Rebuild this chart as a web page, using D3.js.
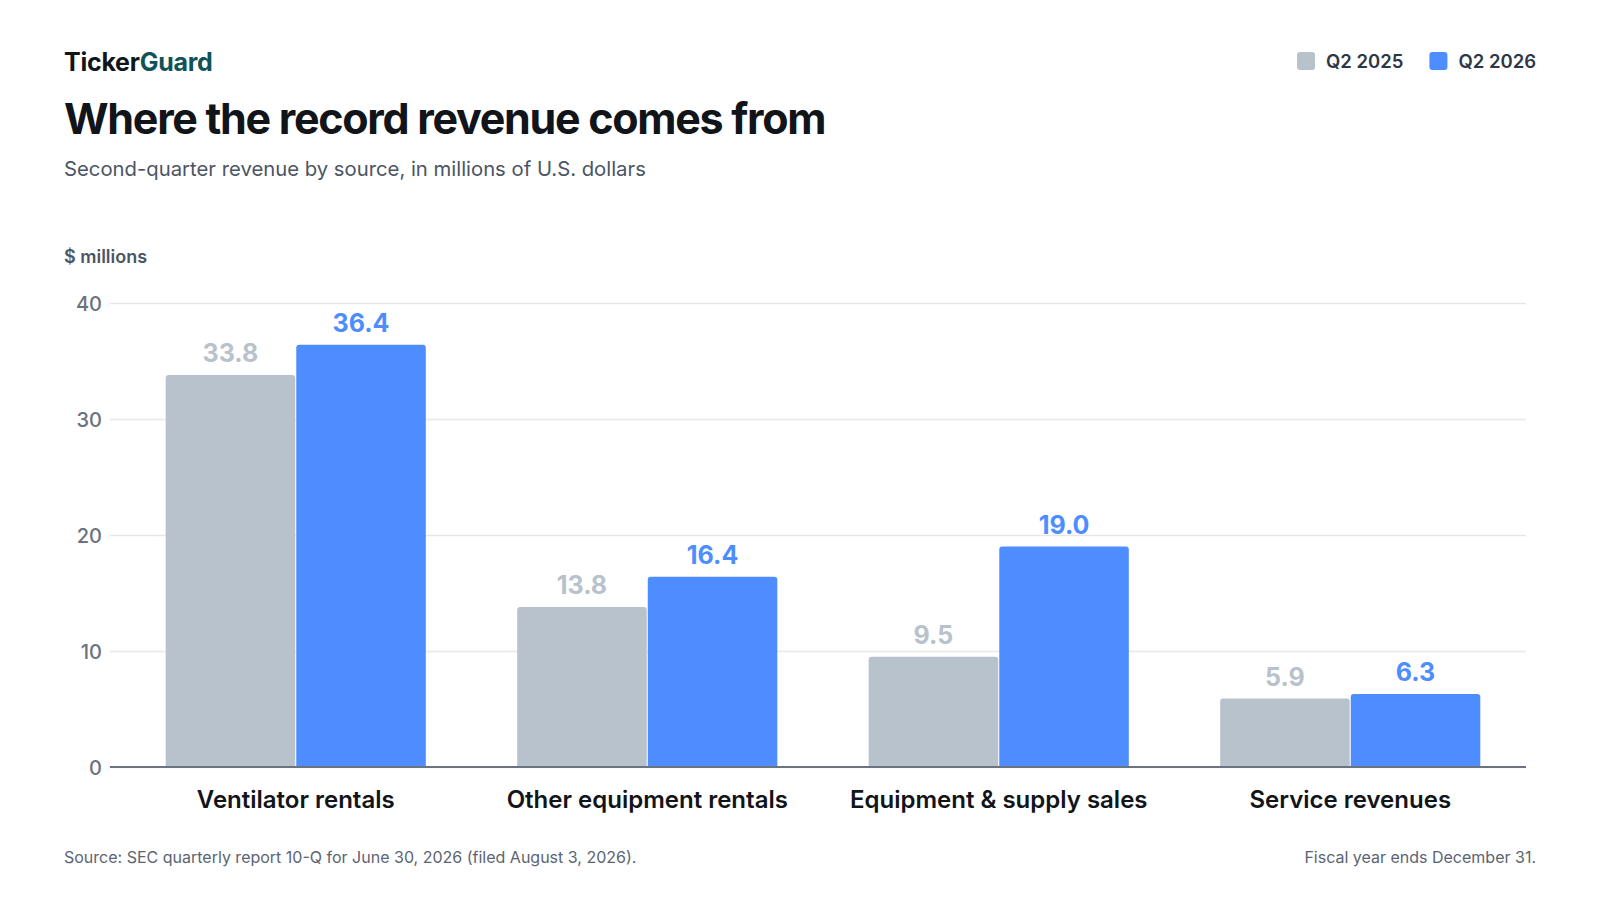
<!DOCTYPE html>
<html>
<head>
<meta charset="utf-8">
<script src="https://cdn.jsdelivr.net/npm/d3@7"></script>
<style>
  body { margin: 0; background: #fff; font-family: Inter, 'Noto Sans', sans-serif; }
  svg text { font-family: Inter, 'Noto Sans', sans-serif; }
</style>
</head>
<body>
<div id="chart"></div>
<script>
let width = 1600;
let height = 900;

let categories = ['Ventilator rentals', 'Other equipment rentals', 'Equipment & supply sales', 'Service revenues'];
let seriesNames = ['Q2 2025', 'Q2 2026'];
let q2_2025 = [33.8, 13.8, 9.5, 5.9];
let q2_2026 = [36.4, 16.4, 19.0, 6.3];
let yTicks = [0, 10, 20, 30, 40];

let colors = { 'Q2 2025': '#b8c2cc', 'Q2 2026': '#4d8dff' };

let rows = categories.map(function(c, i) {
  return { category: c, values: [
    { key: 'Q2 2025', value: q2_2025[i] },
    { key: 'Q2 2026', value: q2_2026[i] }
  ] };
});

let svg = d3.select('#chart')
  .append('svg')
  .attr('width', width)
  .attr('height', height);

// header
let brand = svg.append('text')
  .attr('x', 64)
  .attr('y', 71)
  .style('font-size', '25px')
  .style('font-weight', 700)
  .style('letter-spacing', '-0.01em');
brand.append('tspan').attr('fill', '#111418').text('Ticker');
brand.append('tspan').attr('fill', '#0f5257').text('Guard');

svg.append('text')
  .attr('x', 64)
  .attr('y', 134)
  .attr('fill', '#111418')
  .style('font-size', '43px')
  .style('font-weight', 700)
  .style('letter-spacing', '-0.03em')
  .text('Where the record revenue comes from');

svg.append('text')
  .attr('x', 64)
  .attr('y', 176)
  .attr('fill', '#4b5563')
  .style('font-size', '20.3px')
  .text('Second-quarter revenue by source, in millions of U.S. dollars');

svg.append('text')
  .attr('x', 64)
  .attr('y', 263)
  .attr('fill', '#4b5563')
  .style('font-size', '18px')
  .style('font-weight', 600)
  .text('$ millions');

// legend, right aligned
let legend = svg.append('g').attr('class', 'legend');
let lx = 1536;
seriesNames.slice().reverse().forEach(function(name) {
  let t = legend.append('text')
    .attr('x', lx)
    .attr('y', 68)
    .attr('text-anchor', 'end')
    .attr('fill', '#2d3748')
    .style('font-size', '18.5px')
    .style('font-weight', 600)
    .text(name);
  let w = t.node().getComputedTextLength();
  legend.append('rect')
    .attr('x', lx - w - 11 - 18)
    .attr('y', 52)
    .attr('width', 18)
    .attr('height', 18)
    .attr('rx', 3)
    .attr('fill', colors[name]);
  lx = lx - w - 11 - 18 - 26;
});

// scales
let y = d3.scaleLinear()
  .domain([0, 40])
  .range([767, 303]);

let x0 = d3.scaleBand()
  .domain(categories)
  .range([120, 1526])
  .paddingInner(0.26)
  .paddingOuter(0.13);

let x1 = d3.scaleBand()
  .domain(seriesNames)
  .range([0, x0.bandwidth()])
  .paddingInner(0.008);

// grid
let yAxis = d3.axisLeft(y)
  .tickValues(yTicks)
  .tickSize(-(1526 - 110))
  .tickFormat(d3.format('d'));

let gy = svg.append('g')
  .attr('transform', 'translate(110,0)')
  .call(yAxis);
gy.select('.domain').remove();
gy.selectAll('.tick line')
  .attr('stroke', '#e5e7eb')
  .attr('stroke-width', 1.5);
gy.selectAll('.tick text')
  .attr('x', -8)
  .attr('dy', '0.35em')
  .attr('fill', '#6b7280')
  .style('font-size', '20px')
  .style('font-weight', 500);

// bars with rounded top corners
function topRounded(x, yTop, w, h, r) {
  r = Math.min(r, h, w / 2);
  return 'M' + x + ',' + (yTop + h) +
    'V' + (yTop + r) +
    'Q' + x + ',' + yTop + ' ' + (x + r) + ',' + yTop +
    'H' + (x + w - r) +
    'Q' + (x + w) + ',' + yTop + ' ' + (x + w) + ',' + (yTop + r) +
    'V' + (yTop + h) + 'Z';
}

let groups = svg.append('g')
  .selectAll('g')
  .data(rows)
  .enter()
  .append('g')
  .attr('transform', function(d) { return 'translate(' + x0(d.category) + ',0)'; });

groups.selectAll('path')
  .data(function(d) { return d.values; })
  .enter()
  .append('path')
  .attr('d', function(d) {
    return topRounded(x1(d.key), y(d.value), x1.bandwidth(), y(0) - y(d.value), 3);
  })
  .attr('fill', function(d) { return colors[d.key]; });

groups.selectAll('text.val')
  .data(function(d) { return d.values; })
  .enter()
  .append('text')
  .attr('class', 'val')
  .attr('x', function(d) { return x1(d.key) + x1.bandwidth() / 2; })
  .attr('y', function(d) { return y(d.value) - 13; })
  .attr('text-anchor', 'middle')
  .attr('fill', function(d) { return colors[d.key]; })
  .style('font-size', '25px')
  .style('font-weight', 700)
  .text(function(d) { return d.value.toFixed(1); });

// baseline
svg.append('line')
  .attr('x1', 110)
  .attr('x2', 1526)
  .attr('y1', y(0))
  .attr('y2', y(0))
  .attr('stroke', '#6b7280')
  .attr('stroke-width', 2);

// category labels
let xAxis = d3.axisBottom(x0).tickSize(0);
let gx = svg.append('g')
  .attr('transform', 'translate(0,' + y(0) + ')')
  .call(xAxis);
gx.select('.domain').remove();
gx.selectAll('.tick text')
  .attr('y', 24)
  .attr('dy', '0.71em')
  .attr('fill', '#111418')
  .style('font-size', '24px')
  .style('font-weight', 600);

// footer
svg.append('text')
  .attr('x', 64)
  .attr('y', 863)
  .attr('fill', '#5b6472')
  .style('font-size', '16px')
  .text('Source: SEC quarterly report 10-Q for June 30, 2026 (filed August 3, 2026).');

svg.append('text')
  .attr('x', 1536)
  .attr('y', 863)
  .attr('text-anchor', 'end')
  .attr('fill', '#5b6472')
  .style('font-size', '16px')
  .text('Fiscal year ends December 31.');
</script>
</body>
</html>
